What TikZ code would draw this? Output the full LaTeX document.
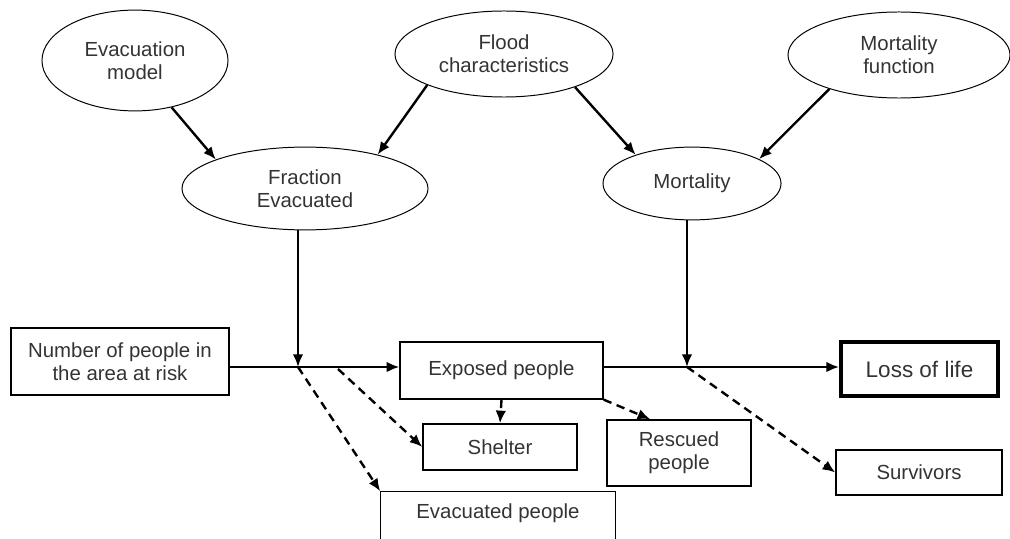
\documentclass[tikz,border=0pt]{standalone}
\usepackage{fontspec}
\setmainfont{Liberation Sans}
\usepackage{tikz}
\usetikzlibrary{shapes.geometric, arrows.meta, calc}
\tikzset{>={Latex[length=9pt,width=7.5pt]}}
\definecolor{txtgray}{HTML}{333333}

\begin{document}
\begin{tikzpicture}[x=0.025cm,y=-0.025cm,
	bubble/.style={draw,ellipse,line width=0.7pt,inner sep=0pt,align=center,text=txtgray},
	box/.style={draw,line width=1pt,inner sep=0pt,align=center,text=txtgray},
	flow/.style={->,line width=1.7pt},
	side/.style={->,line width=1.7pt,dash pattern=on 6pt off 4pt},
	font=\fontsize{14.5}{16.5}\selectfont]
			\useasboundingbox (0,0) rectangle (1010,538);
			% inputs
			\node[bubble,minimum width=4.65cm,minimum height=2.52cm] (evac) at (135,60.5) {Evacuation\\model};
			\node[bubble,minimum width=5.45cm,minimum height=2.15cm] (flood) at (504,54) {Flood\\characteristics};
			\node[bubble,minimum width=5.55cm,minimum height=2.15cm] (mfun) at (899,55) {Mortality\\function};
			\node[bubble,minimum width=6.15cm,minimum height=2.07cm] (frac) at (305,188.5) {Fraction\\Evacuated};
			\node[bubble,minimum width=4.45cm,minimum height=1.82cm] (mort) at (692,183.5) {Mortality};
			% people
			\node[box,minimum width=5.45cm,minimum height=1.67cm] (numb) at (120,361.5) {Number of people in\\the area at risk};
			\node[box,minimum width=5.07cm,minimum height=1.42cm] (expo) at (501.5,370.5) {Exposed people};
			\node[box,minimum width=3.85cm,minimum height=1.15cm] (shel) at (500,447) {Shelter};
			\node[box,draw=none,minimum width=5.85cm,minimum height=1.05cm] (evpe) at (498,513) {Evacuated people};
			\draw[line width=1pt] ([yshift=-1cm]evpe.south west) -- (evpe.north west) -- (evpe.north east) -- ([yshift=-1cm]evpe.south east);
			\node[box,minimum width=3.6cm,minimum height=1.65cm] (resc) at (679,453) {Rescued\\people};
			\node[box,minimum width=4.15cm,minimum height=1.12cm] (surv) at (919,472.5) {Survivors};
			\node[box,line width=2.8pt,minimum width=3.92cm,minimum height=1.35cm,font=\fontsize{16}{18}\selectfont] (loss) at (919.5,369) {Loss of life};
			\coordinate (j1) at (298,367);
			\coordinate (j2) at (687,367);
			\coordinate (d1) at (338,369);
			% solid arrows
			\draw[flow] (evac.-52) -- (frac.162);
			\draw[flow] (flood.-158) -- (frac.25);
			\draw[flow] (flood.-25) -- (mort.153);
			\draw[flow] (mfun.-154) -- (mort.20);
			\draw[flow] (j1 |- frac.south) -- (j1);
			\draw[flow] (j2 |- mort.south) -- (j2);
			\draw[flow] (numb.east |- j1) -- (expo.west |- j1);
			\draw[flow] (expo.east |- j2) -- (loss.west |- j2);
			% dashed arrows
			\draw[side] (j1) -- (evpe.north west);
			\draw[side] (d1) -- (shel.west);
			\draw[side] (expo.south) -- (shel.north);
			\draw[side] (expo.south east) -- ([xshift=1.1cm]resc.north west);
			\draw[side] (j2) -- (surv.west);
		\end{tikzpicture}
\end{document}
